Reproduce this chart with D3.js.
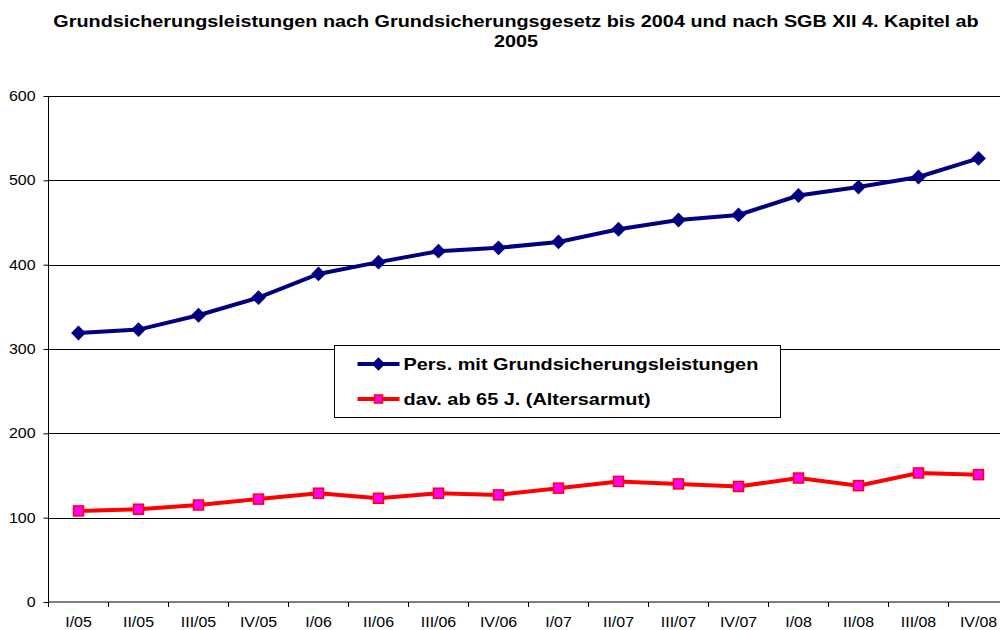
<!DOCTYPE html>
<html>
<head>
<meta charset="utf-8">
<script src="https://cdn.jsdelivr.net/npm/d3@7"></script>
<style>
  body { margin: 0; background: #fff; }
  svg { display: block; font-family: "Liberation Sans", Arial, sans-serif; }
  .axis text { font-size: 14.5px; fill: #000; }
  .title { font-size: 16.5px; font-weight: bold; }
  .legend-label { font-size: 17px; font-weight: bold; }
</style>
</head>
<body>
<div id="chart"></div>
<script>
  var quarters = ['I/05','II/05','III/05','IV/05','I/06','II/06','III/06','IV/06',
                  'I/07','II/07','III/07','IV/07','I/08','II/08','III/08','IV/08'];
  var personsTotal = [319, 323, 340, 361, 389, 403, 416, 420, 427, 442, 453, 459, 482, 492, 504, 526];
  var personsOver65 = [108, 110, 115, 122, 129, 123, 129, 127, 135, 143, 140, 137, 147, 138, 153, 151];
  var yTicks = [0, 100, 200, 300, 400, 500, 600];
  var titleLines = ['Grundsicherungsleistungen nach Grundsicherungsgesetz bis 2004 und nach SGB XII 4. Kapitel ab', '2005'];
  var seriesNames = ['Pers. mit Grundsicherungsleistungen', 'dav. ab 65 J. (Altersarmut)'];

  function drawChart() {
    var width = 1000, height = 630;
    var plotLeft = 48.5, plotRight = 1008.5, plotTop = 96, plotBottom = 602;
    var stretch = 1.2;

    var svg = d3.select('#chart').append('svg')
      .attr('width', width)
      .attr('height', height);

    //widen text horizontally like the original export
    function widen(sel, factor) {
      sel.each(function() {
        var w = this.getComputedTextLength();
        d3.select(this).attr('textLength', w * factor).attr('lengthAdjust', 'spacingAndGlyphs');
      });
    }

    //title
    svg.append('g')
      .selectAll('text')
      .data(titleLines)
      .enter().append('text')
        .attr('class', 'title')
        .attr('x', 516)
        .attr('y', function(d, i) { return 26.5 + i * 20; })
        .attr('text-anchor', 'middle')
        .text(function(d) { return d; })
        .call(widen, 1.2);

    var x = d3.scaleBand().domain(quarters).range([plotLeft, plotRight]);
    var y = d3.scaleLinear().domain([0, 600]).range([plotBottom, plotTop]);

    //gridlines
    svg.append('g')
      .selectAll('line')
      .data(yTicks.filter(function(d) { return d > 0; }))
      .enter().append('line')
        .attr('x1', plotLeft).attr('x2', plotRight)
        .attr('y1', function(d) { return Math.round(y(d)) + 0.5; })
        .attr('y2', function(d) { return Math.round(y(d)) + 0.5; })
        .attr('stroke', '#000')
        .attr('stroke-width', 1);

    //y axis
    var yAxis = svg.append('g')
      .attr('class', 'axis')
      .attr('transform', 'translate(' + plotLeft + ',0)')
      .call(d3.axisLeft(y).tickValues(yTicks).tickSize(5).tickPadding(8));
    yAxis.selectAll('line, path').attr('stroke', '#000');
    yAxis.select('.domain').attr('d', 'M0,' + plotTop + 'V' + plotBottom);
    yAxis.selectAll('text').call(widen, 1.1);

    //x axis
    var xAxis = svg.append('g')
      .attr('class', 'axis')
      .attr('transform', 'translate(0,' + plotBottom + ')')
      .call(d3.axisBottom(x).tickSize(0).tickPadding(15));
    xAxis.select('.domain').attr('stroke', '#000').attr('d', 'M' + plotLeft + ',0H' + plotRight);
    xAxis.selectAll('.tick line').remove();
    xAxis.selectAll('text').call(widen, 1.1);
    svg.append('g')
      .selectAll('line')
      .data(quarters)
      .enter().append('line')
        .attr('x1', function(d) { return x(d); })
        .attr('x2', function(d) { return x(d); })
        .attr('y1', plotBottom).attr('y2', plotBottom + 5)
        .attr('stroke', '#000');

    var cx = function(d, i) { return x(quarters[i]) + x.bandwidth() / 2; };
    var line = d3.line()
      .x(function(d, i) { return cx(d, i); })
      .y(function(d) { return y(d); });

    //blue series
    svg.append('path')
      .datum(personsTotal)
      .attr('d', line)
      .attr('fill', 'none')
      .attr('stroke', '#000080')
      .attr('stroke-width', 4);
    svg.append('g')
      .selectAll('path')
      .data(personsTotal)
      .enter().append('path')
        .attr('d', d3.symbol(d3.symbolSquare, 110))
        .attr('transform', function(d, i) { return 'translate(' + cx(d, i) + ',' + y(d) + ') rotate(45)'; })
        .attr('fill', '#000080');

    //red series
    svg.append('path')
      .datum(personsOver65)
      .attr('d', line)
      .attr('fill', 'none')
      .attr('stroke', '#ff0000')
      .attr('stroke-width', 4);
    svg.append('g')
      .selectAll('rect')
      .data(personsOver65)
      .enter().append('rect')
        .attr('x', function(d, i) { return cx(d, i) - 5; })
        .attr('y', function(d) { return y(d) - 5; })
        .attr('width', 10).attr('height', 10)
        .attr('fill', '#ff00ff')
        .attr('stroke', '#ff0000')
        .attr('stroke-width', 1.5);

    //legend
    var legend = svg.append('g').attr('transform', 'translate(334.5,345.5)');
    legend.append('rect')
      .attr('width', 446).attr('height', 72)
      .attr('fill', '#fff')
      .attr('stroke', '#000')
      .attr('stroke-width', 1);
    var rows = legend.selectAll('.row')
      .data(seriesNames)
      .enter().append('g')
        .attr('class', 'row')
        .attr('transform', function(d, i) { return 'translate(0,' + (18.5 + i * 35) + ')'; });
    rows.append('line')
      .attr('x1', 23).attr('x2', 65)
      .attr('stroke', function(d, i) { return i == 0 ? '#000080' : '#ff0000'; })
      .attr('stroke-width', 4);
    rows.filter(function(d, i) { return i == 0; }).append('path')
      .attr('d', d3.symbol(d3.symbolSquare, 90))
      .attr('transform', 'translate(44,0) rotate(45)')
      .attr('fill', '#000080');
    rows.filter(function(d, i) { return i == 1; }).append('rect')
      .attr('x', 40).attr('y', -4).attr('width', 8).attr('height', 8)
      .attr('fill', '#ff00ff').attr('stroke', '#ff0000').attr('stroke-width', 1.5);
    rows.append('text')
      .attr('class', 'legend-label')
      .attr('x', 69)
      .attr('dy', '0.35em')
      .text(function(d) { return d; })
      .call(widen, 1.17);
  }

  drawChart();
</script>
</body>
</html>
